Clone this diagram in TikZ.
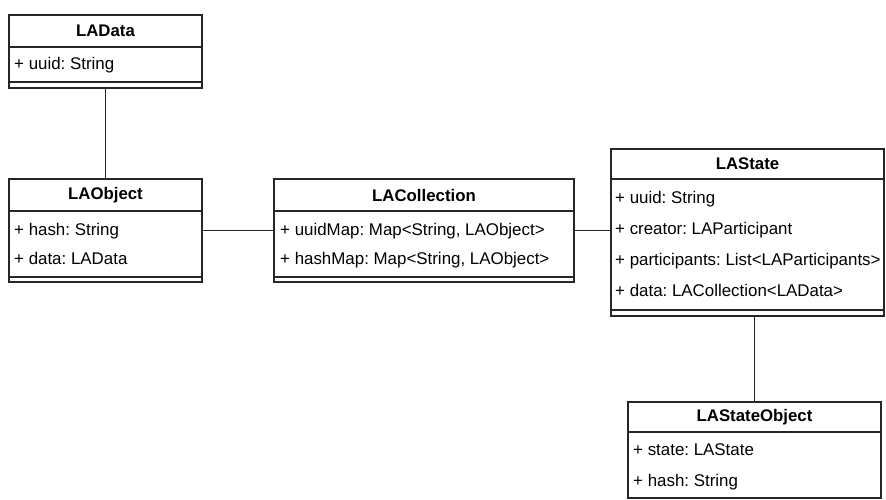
\documentclass[tikz,border=0pt]{standalone}
\usepackage{fontspec}
\setmainfont{Liberation Sans}
\frenchspacing
\tikzset{
  umlbox/.style={draw=black!85, line width=1.1pt, fill=white, rectangle,
    inner sep=0pt, outer sep=0pt, anchor=north west},
  umlrule/.style={draw=black!85, line width=1.1pt},
  umltitle/.style={inner sep=0pt, anchor=center, font=\fontsize{16.8}{20}\selectfont\bfseries},
  umlattr/.style={inner sep=0pt, anchor=base west, font=\fontsize{16.9}{20}\selectfont},
  assoc/.style={draw=black!85, line width=1.1pt},
}
\begin{document}
\begin{tikzpicture}[x=1pt,y=-1pt]
\useasboundingbox (0,0) rectangle (886,500);

% class LAData
\node[umlbox, minimum width=193pt, minimum height=73pt] (ladata) at (9,15) {};
\draw[umlrule] (ladata.west |- 0,47) -- (ladata.east |- 0,47);
\draw[umlrule] (ladata.west |- 0,82) -- (ladata.east |- 0,82);
\node[umltitle] (ladata-name) at (105.5,31) {LAData};
\node[umlattr] (ladata-uuid) at (14,70) {+ uuid: String};

% class LAObject
\node[umlbox, minimum width=193pt, minimum height=103pt] (laobject) at (9,179) {};
\draw[umlrule] (laobject.west |- 0,211) -- (laobject.east |- 0,211);
\draw[umlrule] (laobject.west |- 0,277) -- (laobject.east |- 0,277);
\node[umltitle] (laobject-name) at (105.5,195) {LAObject};
\node[umlattr] (laobject-hash) at (14,235) {+ hash: String};
\node[umlattr] (laobject-data) at (14,264) {+ data: LAData};

% class LACollection
\node[umlbox, minimum width=300pt, minimum height=103pt] (lacoll) at (274,179) {};
\draw[umlrule] (lacoll.west |- 0,211) -- (lacoll.east |- 0,211);
\draw[umlrule] (lacoll.west |- 0,277) -- (lacoll.east |- 0,277);
\node[umltitle] (lacoll-name) at (424,195) {LACollection};
\node[umlattr] (lacoll-uuidmap) at (280,235) {+ uuidMap: Map<String, LAObject>};
\node[umlattr] (lacoll-hashmap) at (280,264) {+ hashMap: Map<String, LAObject>};

% class LAState
\node[umlbox, minimum width=273pt, minimum height=167pt] (lastate) at (611,149) {};
\draw[umlrule] (lastate.west |- 0,179) -- (lastate.east |- 0,179);
\draw[umlrule] (lastate.west |- 0,310) -- (lastate.east |- 0,310);
\node[umltitle] (lastate-name) at (747.5,164) {LAState};
\node[umlattr] (lastate-uuid) at (615,203) {+ uuid: String};
\node[umlattr] (lastate-creator) at (615,234) {+ creator: LAParticipant};
\node[umlattr] (lastate-participants) at (615,265) {+ participants: List<LAParticipants>};
\node[umlattr] (lastate-data) at (615,296) {+ data: LACollection<LAData>};

% class LAStateObject
\node[umlbox, minimum width=253pt, minimum height=96pt] (lastateobj) at (628,402) {};
\draw[umlrule] (lastateobj.west |- 0,432) -- (lastateobj.east |- 0,432);
\node[umltitle] (lastateobj-name) at (754.5,417) {LAStateObject};
\node[umlattr] (lastateobj-state) at (633,455) {+ state: LAState};
\node[umlattr] (lastateobj-hash) at (633,486) {+ hash: String};

% associations
\draw[assoc] (ladata.south) -- (laobject.north);
\draw[assoc] (laobject.east) -- (lacoll.west);
\draw[assoc] (lacoll.east) -- (lacoll.east -| lastate.west);
\draw[assoc] (lastateobj.north) -- (lastateobj.north |- lastate.south);
\end{tikzpicture}
\end{document}
